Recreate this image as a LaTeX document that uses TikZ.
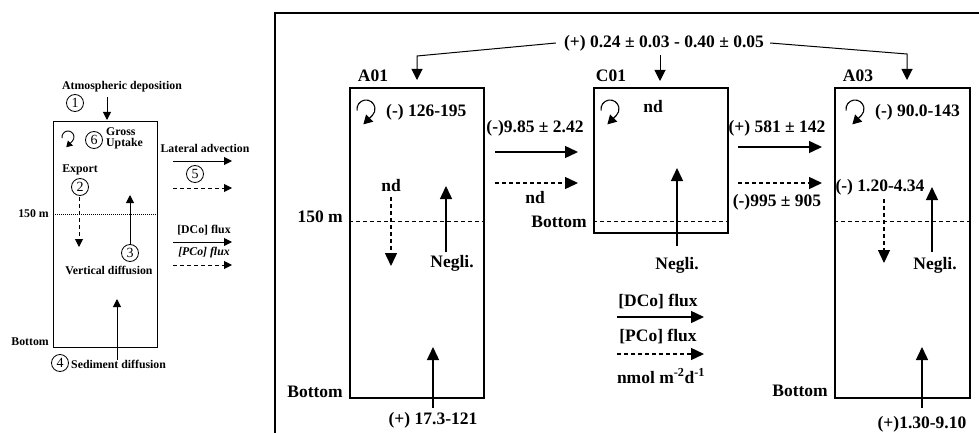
\documentclass[tikz,border=0pt]{standalone}
\usepackage{fontspec}
\setmainfont{Liberation Serif}
\usetikzlibrary{arrows.meta}
\begin{document}
\begin{tikzpicture}[x=1pt,y=-1pt,
  big/.style={font=\fontsize{17.5}{20}\selectfont\bfseries, inner sep=0pt},
  sml/.style={font=\fontsize{11.8}{14}\selectfont\bfseries, inner sep=0pt},
  num/.style={draw, circle, line width=0.8pt, minimum size=17pt, inner sep=0pt, font=\fontsize{14}{15}\selectfont},
  bbox/.style={draw, line width=1.6pt, inner sep=0pt},
  lbox/.style={draw, line width=1.3pt, inner sep=0pt},
  barr/.style={line width=1.4pt, -{Triangle[length=13pt,width=12pt]}},
  larr/.style={line width=1pt, -{Triangle[length=8pt,width=8pt]}},
  dsh/.style={dash pattern=on 4pt off 3pt},
  thinrule/.style={line width=0.8pt, dash pattern=on 4pt off 3pt},
  dotrule/.style={line width=0.8pt, dash pattern=on 1pt off 1pt},
  cyc/.style={line width=1.1pt, -{Triangle[length=9pt,width=10pt]}},
  lcyc/.style={line width=0.9pt, -{Triangle[length=6pt,width=7pt]}}
]
\useasboundingbox (0,0) rectangle (979,433);

% ---------------- left panel ----------------
\node[lbox, minimum width=104pt, minimum height=226pt, anchor=north west] (L) at (53,121) {};
\node[sml] (atm) at (122,87) {Atmospheric deposition};
\node[num] (n1) at (75,103) {1};
\coordinate (atmS) at (107,97); \coordinate (atmE) at (107,120);
\draw[larr] (atmS) -- (atmE);
\coordinate (lc) at (68,137);
\draw[lcyc] ([shift={(170:6)}]lc) arc[start angle=170, end angle=405, radius=6] -- ++(-6,6);
\node[num] (n6) at (94,140) {6};
\node[sml, anchor=west] (gross) at (106,132) {Gross};
\node[sml, anchor=west] (upt) at (106,144) {Uptake};
\node[sml] (exp) at (80,170) {Export};
\node[num] (n2) at (80,187) {2};
\coordinate (e2a) at (79,197); \coordinate (e2b) at (79,247);
\draw[larr, dsh] (e2a) -- (e2b);
\coordinate (d1) at (53,214); \coordinate (d2) at (157,214);
\draw[dotrule] (d1) -- (d2);
\node[sml, anchor=east] (l150) at (49,214) {150 m};
\coordinate (v3a) at (130,245); \coordinate (v3b) at (130,195);
\draw[larr] (v3a) -- (v3b);
\node[num] (n3) at (130,253) {3};
\node[sml] (vdif) at (109,270) {Vertical diffusion};
\node[sml] (lat) at (205,148) {Lateral advection};
\coordinate (la1) at (173,161); \coordinate (la2) at (232,161);
\draw[larr] (la1) -- (la2);
\node[num] (n5) at (195,174) {5};
\coordinate (lb1) at (173,188); \coordinate (lb2) at (232,188);
\draw[larr, dsh] (lb1) -- (lb2);
\node[sml] (ldco) at (204,230) {[DCo] flux};
\coordinate (lc1) at (173,242); \coordinate (lc2) at (232,242);
\draw[larr] (lc1) -- (lc2);
\node[sml, font=\fontsize{11.8}{14}\selectfont\bfseries\itshape] (lpco) at (204,253) {[PCo] flux};
\coordinate (ld1) at (173,265); \coordinate (ld2) at (232,265);
\draw[larr, dsh] (ld1) -- (ld2);
\coordinate (s1) at (117,360); \coordinate (s2) at (117,299);
\draw[larr] (s1) -- (s2);
\node[sml, anchor=east] (lbot) at (49,342) {Bottom};
\node[num] (n4) at (60,363) {4};
\node[sml, anchor=west] (sed) at (71,364) {Sediment diffusion};

% ---------------- right panel ----------------
\coordinate (f1) at (275,433); \coordinate (f2) at (275,13); \coordinate (f3) at (979,13);
\draw[line width=2.2pt] (f1) -- (f2) -- (f3);

\node[bbox, minimum width=134pt, minimum height=310pt, anchor=north west] (A01) at (349,87) {};
\node[bbox, minimum width=134pt, minimum height=145pt, anchor=north west] (C01) at (593,87) {};
\node[bbox, minimum width=135pt, minimum height=310pt, anchor=north west] (A03) at (834,87) {};
\node[big] (tA01) at (373,76) {A01};
\node[big] (tC01) at (611,76) {C01};
\node[big] (tA03) at (858,76) {A03};

\node[big] (top) at (664,43) {(+) 0.24 ± 0.03 - 0.40 ± 0.05};
\coordinate (t1) at (417,56); \coordinate (t1e) at (417,80);
\coordinate (t3) at (907,54); \coordinate (t3e) at (907,80);
\coordinate (t2) at (660,55); \coordinate (t2e) at (660,81);
\draw[line width=1pt, -{Triangle[length=11pt,width=11pt]}] ([xshift=-8pt]top.west) -- (t1) -- (t1e);
\draw[line width=1pt, -{Triangle[length=11pt,width=11pt]}] ([xshift=6pt]top.east) -- (t3) -- (t3e);
\draw[line width=1pt, -{Triangle[length=11pt,width=11pt]}] (t2) -- (t2e);

% A01 interior
\coordinate (ca) at (366,109);
\draw[cyc] ([shift={(170:9)}]ca) arc[start angle=170, end angle=405, radius=9] -- ++(-9,9);
\node[big, anchor=west] (upA01) at (386,112) {(-) 126-195};
\node[big] (ndA01) at (391,186) {nd};
\coordinate (a1a) at (391,197); \coordinate (a1b) at (391,266);
\draw[barr, dsh] (a1a) -- (a1b);
\coordinate (a2a) at (446,252); \coordinate (a2b) at (446,186);
\draw[barr] (a2a) -- (a2b);
\node[big] (ngA01) at (452,263) {Negli.};
\coordinate (h1) at (349,221); \coordinate (h2) at (483,221);
\draw[thinrule] (h1) -- (h2);
\node[big, anchor=east] (m150) at (343,217) {150 m};
\node[big, anchor=east] (botA01) at (343,392) {Bottom};
\coordinate (b1a) at (433,408); \coordinate (b1b) at (433,347);
\draw[barr] (b1a) -- (b1b);
\node[big] (sedA01) at (433,420) {(+) 17.3-121};

% A01 -> C01
\node[big] (ac1) at (535,128) {(-)9.85 ± 2.42};
\coordinate (x1a) at (495,152); \coordinate (x1b) at (578,152);
\draw[barr] (x1a) -- (x1b);
\coordinate (x2a) at (495,183); \coordinate (x2b) at (578,183);
\draw[barr, dsh] (x2a) -- (x2b);
\node[big] (ac2) at (535,198) {nd};

% C01 interior
\coordinate (cc) at (610,109);
\draw[cyc] ([shift={(170:9)}]cc) arc[start angle=170, end angle=405, radius=9] -- ++(-9,9);
\node[big] (ndC01) at (653,107) {nd};
\coordinate (c1a) at (677,246); \coordinate (c1b) at (677,168);
\draw[barr] (c1a) -- (c1b);
\node[big] (ngC01) at (677,265) {Negli.};
\coordinate (h3) at (593,221); \coordinate (h4) at (727,221);
\draw[thinrule] (h3) -- (h4);
\node[big, anchor=east] (botC01) at (587,222) {Bottom};

% C01 -> A03
\node[big] (ca1) at (777,128) {(+) 581 ± 142};
\coordinate (y1a) at (738,147); \coordinate (y1b) at (822,147);
\draw[barr] (y1a) -- (y1b);
\coordinate (y2a) at (738,183); \coordinate (y2b) at (822,183);
\draw[barr, dsh] (y2a) -- (y2b);
\node[big] (ca2) at (777,202) {(-)995 ± 905};

% A03 interior
\coordinate (cb) at (855,109);
\draw[cyc] ([shift={(170:9)}]cb) arc[start angle=170, end angle=405, radius=9] -- ++(-9,9);
\node[big, anchor=west] (upA03) at (875,112) {(-) 90.0-143};
\node[big] (exA03) at (880,187) {(-) 1.20-4.34};
\coordinate (z1a) at (884,199); \coordinate (z1b) at (884,263);
\draw[barr, dsh] (z1a) -- (z1b);
\coordinate (z2a) at (932,252); \coordinate (z2b) at (932,187);
\draw[barr] (z2a) -- (z2b);
\node[big] (ngA03) at (935,265) {Negli.};
\coordinate (h5) at (834,221); \coordinate (h6) at (969,221);
\draw[thinrule] (h5) -- (h6);
\node[big, anchor=east] (botA03) at (828,391) {Bottom};
\coordinate (b3a) at (922,408); \coordinate (b3b) at (922,347);
\draw[barr] (b3a) -- (b3b);
\node[big] (sedA03) at (922,424) {(+)1.30-9.10};

% legend
\node[big] (gdco) at (658,302) {[DCo] flux};
\coordinate (g1a) at (617,317); \coordinate (g1b) at (704,317);
\draw[barr] (g1a) -- (g1b);
\node[big] (gpco) at (658,337) {[PCo] flux};
\coordinate (g2a) at (617,354); \coordinate (g2b) at (704,354);
\draw[barr, dsh] (g2a) -- (g2b);
\node[big] (gunit) at (661,376) {nmol m\textsuperscript{-2}d\textsuperscript{-1}};
\end{tikzpicture}
\end{document}
